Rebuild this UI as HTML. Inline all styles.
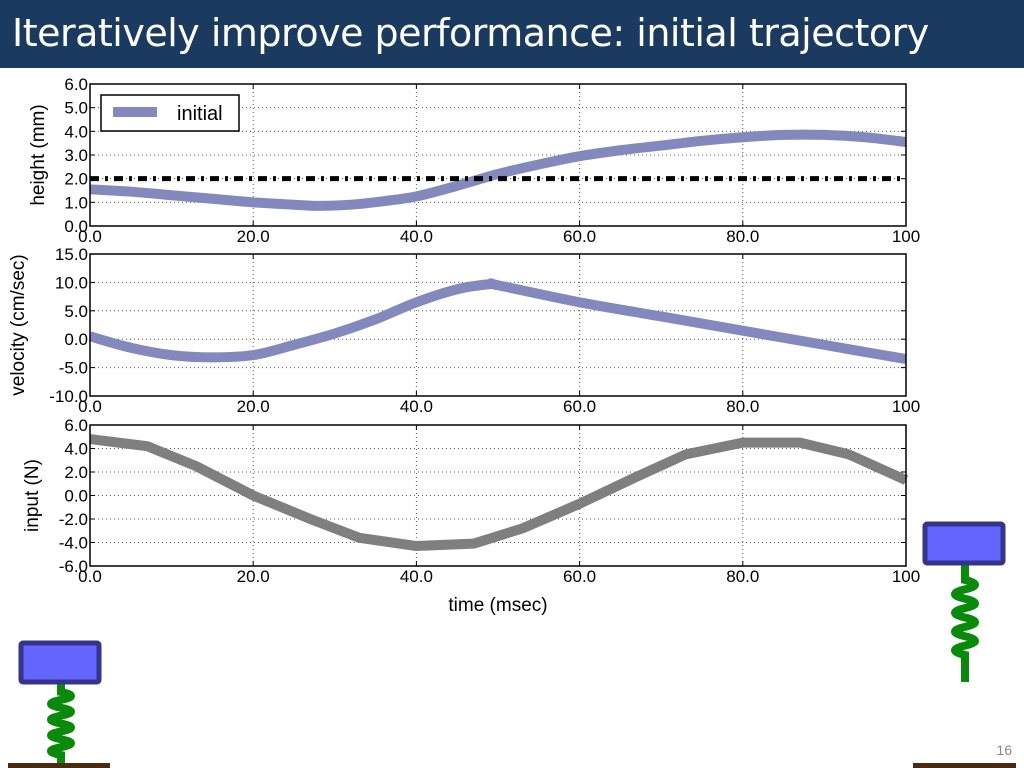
<!DOCTYPE html>
<html><head><meta charset="utf-8"><style>
body{margin:0;width:1024px;height:768px;overflow:hidden;background:#fff;font-family:"Liberation Sans",sans-serif}
#title{position:absolute;left:0;top:0;width:1024px;height:68px;background:#1b3a60;color:#fff;font-size:38px;line-height:66px;padding-left:12px;box-sizing:border-box;font-family:"DejaVu Sans","Liberation Sans",sans-serif;letter-spacing:-0.5px}
svg{position:absolute;left:0;top:0}
</style></head><body>
<div id="title">Iteratively improve performance: initial trajectory</div>
<svg id="chart" width="1024" height="768"></svg>
<script>
const xTicks=[0,20,40,60,80,100];
const xTickLabels=["0.0","20.0","40.0","60.0","80.0","100"];
const heightX=[0,5,10,15,20,25,28,32,36,40,45,50,55,60,65,70,75,80,85,90,95,100];
const heightY=[1.55,1.45,1.3,1.15,1.0,0.9,0.85,0.9,1.05,1.25,1.7,2.2,2.6,2.95,3.2,3.4,3.6,3.75,3.85,3.85,3.75,3.55];
const targetHeight=2.0;
const velX=[0,5,10,15,20,25,30,35,40,45,49,50,60,70,80,90,100];
const velY=[0.5,-1.5,-2.8,-3.2,-2.8,-1,1,3.5,6.5,8.8,9.7,9.5,6.5,4,1.5,-1,-3.5];
const inX=[0,7,13,20,27,33,40,47,53,60,67,73,80,87,93,100];
const inY=[4.8,4.2,2.5,0,-2,-3.6,-4.3,-4.1,-2.8,-0.7,1.6,3.5,4.5,4.5,3.5,1.3];
const hTicks=[0,1,2,3,4,5,6], hLabels=["0.0","1.0","2.0","3.0","4.0","5.0","6.0"];
const vTicks=[-10,-5,0,5,10,15], vLabels=["-10.0","-5.0","0.0","5.0","10.0","15.0"];
const iTicks=[-6,-4,-2,0,2,4,6], iLabels=["-6.0","-4.0","-2.0","0.0","2.0","4.0","6.0"];
const NS="http://www.w3.org/2000/svg";
const svg=document.getElementById('chart');
function mk(t,a,p){const e=document.createElementNS(NS,t);for(const k in a)e.setAttribute(k,a[k]);(p||svg).appendChild(e);return e;}
const X0=90,X1=906;
function sx(v){return X0+(v/100)*(X1-X0);}
function smoothPath(pts){
  let d='M'+pts[0][0]+','+pts[0][1];
  for(let i=0;i<pts.length-1;i++){
    const p0=pts[Math.max(0,i-1)],p1=pts[i],p2=pts[i+1],p3=pts[Math.min(pts.length-1,i+2)];
    const c1=[p1[0]+(p2[0]-p0[0])/6,p1[1]+(p2[1]-p0[1])/6];
    const c2=[p2[0]-(p3[0]-p1[0])/6,p2[1]-(p3[1]-p1[1])/6];
    d+=' C'+c1[0]+','+c1[1]+' '+c2[0]+','+c2[1]+' '+p2[0]+','+p2[1];
  }
  return d;
}
function panel(name,top,bot,ymin,ymax,yt,yl,ylabel,xs,ys,color,ylabX,smooth){
  const g=mk('g',{});
  
  
  const sy=v=>bot-(v-ymin)/(ymax-ymin)*(bot-top);
  xTicks.forEach((t,i)=>{
    if(i>0&&i<xTicks.length-1){const l=mk('line',{x1:sx(t),x2:sx(t),y1:top,y2:bot,stroke:'#555','stroke-width':1,'stroke-dasharray':'1,3'},g);
    }
    mk('line',{x1:sx(t),x2:sx(t),y1:bot,y2:bot-5,stroke:'#000'},g);
    mk('line',{x1:sx(t),x2:sx(t),y1:top,y2:top+5,stroke:'#000'},g);
    const tx=mk('text',{x:sx(t),y:bot+16,'font-size':17,'text-anchor':'middle'},g);tx.textContent=xTickLabels[i];
    
  });
  yt.forEach((t,i)=>{
    if(i>0&&i<yt.length-1){const l=mk('line',{x1:X0,x2:X1,y1:sy(t),y2:sy(t),stroke:'#555','stroke-width':1,'stroke-dasharray':'1,3'},g);
    }
    mk('line',{x1:X0,x2:X0+5,y1:sy(t),y2:sy(t),stroke:'#000'},g);
    mk('line',{x1:X1,x2:X1-5,y1:sy(t),y2:sy(t),stroke:'#000'},g);
    const tx=mk('text',{x:X0-2,y:sy(t)+6,'font-size':17,'text-anchor':'end'},g);tx.textContent=yl[i];
    
  });
  const pts=xs.map((x,i)=>[sx(x),sy(ys[i])]);
  const d=smooth?smoothPath(pts):pts.map((p,i)=>(i?'L':'M')+p[0]+','+p[1]).join('');
  const p=mk('path',{d:d,fill:'none',stroke:color,'stroke-width':10,'stroke-linejoin':'round'},g);
  
  mk('rect',{x:X0,y:top,width:X1-X0,height:bot-top,fill:'none',stroke:'#000','stroke-width':1.5},g);
  const yl2=mk('text',{x:ylabX,y:(top+bot)/2,'font-size':19,'text-anchor':'middle',transform:'rotate(-90 '+ylabX+' '+(top+bot)/2+')'},g);
  yl2.textContent=ylabel;
  return sy;
}
const hsy=panel('height',84,226,0,6,hTicks,hLabels,'height (mm)',heightX,heightY,'#8489bd',44,true);
const tl=mk('line',{x1:X0,x2:X1,y1:hsy(targetHeight),y2:hsy(targetHeight),stroke:'#000','stroke-width':5,'stroke-dasharray':'9,6,3,6'});

const lg=mk('g',{});

mk('rect',{x:101,y:95,width:138,height:36,fill:'#fff',stroke:'#000','stroke-width':1.5},lg);
mk('line',{x1:113,x2:157,y1:112,y2:112,stroke:'#8489bd','stroke-width':10},lg);
const lt=mk('text',{x:177,y:120,'font-size':20},lg);lt.textContent='initial';
panel('velocity',254,396,-10,15,vTicks,vLabels,'velocity (cm/sec)',velX,velY,'#8489bd',24,true);
panel('input',425,566,-6,6,iTicks,iLabels,'input (N)',inX,inY,'#7f7f7f',38,false);
const xt=mk('text',{x:498,y:611,'font-size':19,'text-anchor':'middle'});xt.textContent='time (msec)';

function spring(name,bx,by,sTop,sBot,coilTop,coilBot){
  const g=mk('g',{});
  const cx=bx+40;
  let d='M'+cx+','+sTop+' L'+cx+','+coilTop;
  const n=4,h=(coilBot-coilTop)/n;
  for(let i=0;i<n;i++){const y=coilTop+i*h;d+=' Q'+(cx+20)+','+(y+h*0.25)+' '+cx+','+(y+h*0.5)+' Q'+(cx-20)+','+(y+h*0.75)+' '+cx+','+(y+h);}
  d+=' L'+cx+','+sBot;
  mk('path',{d:d,fill:'none',stroke:'#0a8a0a','stroke-width':8},g);
  mk('rect',{x:bx,y:by,width:78,height:39,fill:'#6464ff',stroke:'#34348a','stroke-width':5,rx:2},g);
}
spring('left-spring-mass',21,643,683,768,692,755);
mk('rect',{x:8,y:763,width:102,height:5,fill:'#4a2a10'});
spring('right-spring-mass',925,524,565,682,580,655);
mk('rect',{x:913,y:763,width:103,height:5,fill:'#4a2a10'});
const pn=mk('text',{x:1012,y:755,'font-size':14,fill:'#888','text-anchor':'end'});pn.textContent='16';

</script>
</body></html>
